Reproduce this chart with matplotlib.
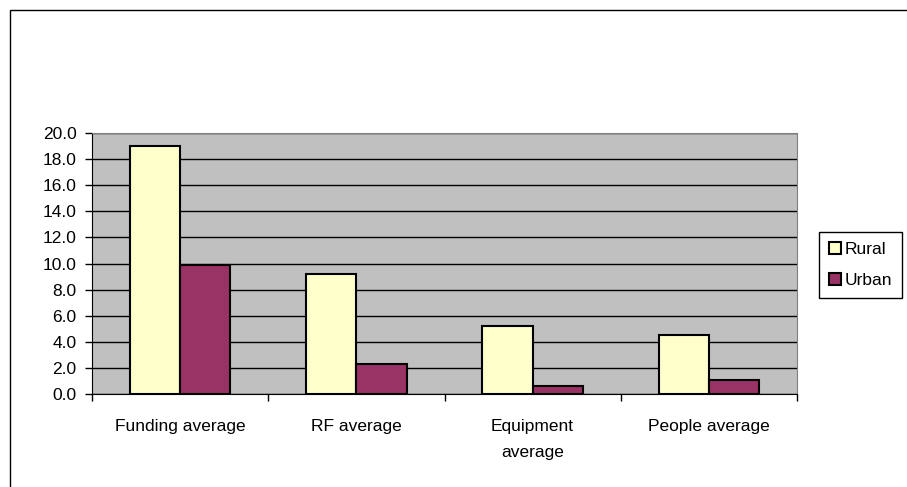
import numpy as np
import matplotlib.pyplot as plt
from matplotlib.patches import Rectangle

plt.rcParams['font.family'] = ['Liberation Sans', 'DejaVu Sans']

categories = ['Funding average', 'RF average', 'Equipment\naverage', 'People average']
rural = [19.0, 9.2, 5.2, 4.5]
urban = [9.9, 2.3, 0.6, 1.1]
series_names = ['Rural', 'Urban']
yticks = np.arange(0, 21, 2)

FS = 12.5
W, H = 907, 487
fig = plt.figure(figsize=(W / 100, H / 100), dpi=100)

# outer chart frame (only left/top edges fall inside the image)
fig.patches.append(Rectangle((10 / W, -0.1), 1.2, (H - 10) / H + 0.1,
                             transform=fig.transFigure, fill=False,
                             edgecolor='black', linewidth=1.0))

# plot area in pixel coords
left, right, top, bottom = 92, 797, 133, 394
ax = fig.add_axes([left / W, (H - bottom) / H, (right - left) / W, (bottom - top) / H])
ax.set_facecolor('#C0C0C0')

x = np.arange(len(categories))
w = 1 / 3.5
b1 = ax.bar(x - w / 2, rural, width=w, color='#FFFFCC', edgecolor='black',
            linewidth=1.5, label=series_names[0], zorder=3)
b2 = ax.bar(x + w / 2, urban, width=w, color='#993366', edgecolor='black',
            linewidth=1.5, label=series_names[1], zorder=3)

ax.set_xlim(-0.5, len(categories) - 0.5)
ax.set_ylim(0, 20)
ax.set_yticks(yticks)
ax.set_yticklabels(['%.1f' % v for v in yticks], fontsize=FS)
ax.yaxis.grid(True, color='black', linewidth=1.0, zorder=1)
ax.set_axisbelow(True)

# category ticks sit on the boundaries, labels centered under groups
ax.set_xticks(np.arange(-0.5, len(categories), 1.0))
ax.set_xticklabels([])
ax.set_xticks(x, minor=True)
ax.set_xticklabels(categories, minor=True, fontsize=FS, linespacing=1.9)
ax.tick_params(axis='x', which='minor', length=0, pad=18)
ax.tick_params(axis='x', which='major', direction='out', length=5, width=1)
ax.tick_params(axis='y', direction='out', length=5, width=1, pad=6)

ax.spines['top'].set_color('#808080')
ax.spines['right'].set_color('#808080')
for s in ['left', 'bottom']:
    ax.spines[s].set_color('black')

fig.legend(handles=[b1, b2], loc='upper left',
           bbox_to_anchor=(819 / W, 1 - 232 / H), fontsize=FS,
           frameon=True, fancybox=False, edgecolor='black', framealpha=1,
           handlelength=0.7, handleheight=0.7, handletextpad=0.25,
           borderpad=0.55, labelspacing=0.95, borderaxespad=0)
fig.legends[0].get_frame().set_linewidth(1.0)

fig.savefig('out.png', dpi=100)
